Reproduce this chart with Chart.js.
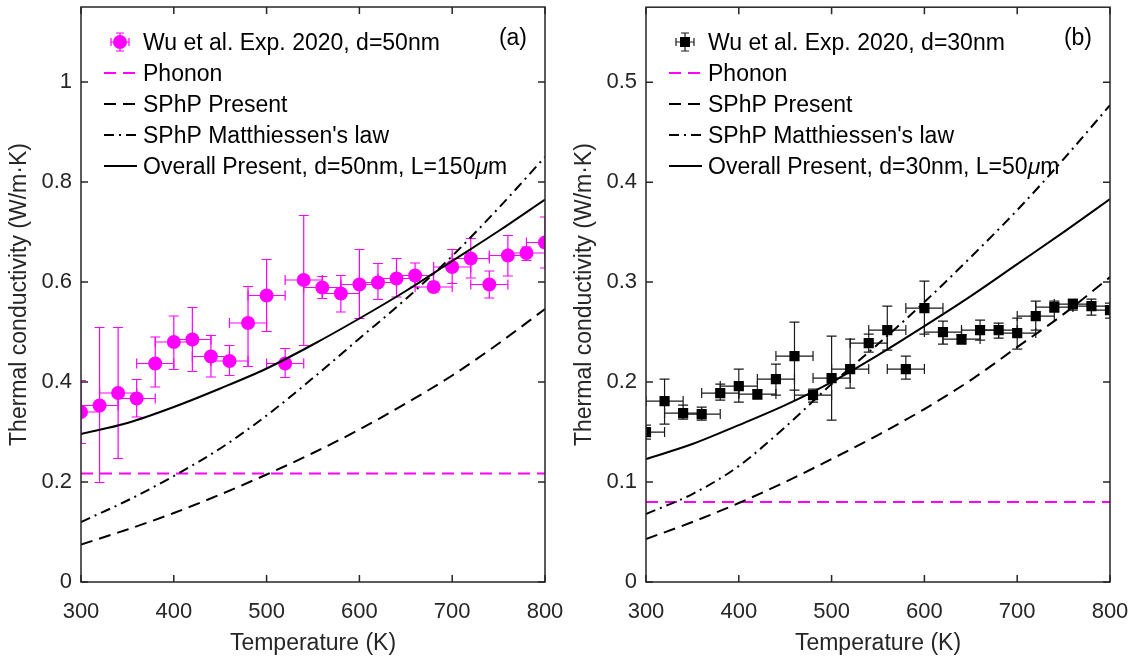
<!DOCTYPE html>
<html><head><meta charset="utf-8">
<script src="https://cdn.jsdelivr.net/npm/chart.js@4/dist/chart.umd.min.js"></script>
<style>
html,body{margin:0;padding:0;background:#fff;}
#wrap{position:relative;width:1130px;height:657px;overflow:hidden;}
.panel{position:absolute;top:0;width:565px;height:657px;}
</style></head><body>
<div id="wrap">
<div class="panel" style="left:0"><canvas id="ca" width="565" height="657"></canvas></div>
<div class="panel" style="left:565px"><canvas id="cb" width="565" height="657"></canvas></div>
</div>
<script>
// ---------- data ----------
const temps = [300,320,340,360,380,400,420,440,460,480,500,520,540,560,580,600,620,640,660,680,700,720,740,760,780,800];
const kA     = [0.340,0.353,0.378,0.367,0.437,0.480,0.485,0.451,0.442,0.518,0.573,0.437,0.604,0.589,0.577,0.595,0.599,0.607,0.613,0.590,0.630,0.647,0.595,0.653,0.658,0.679];
const kAHigh = [0.403,0.509,0.509,0.405,0.490,0.532,0.549,0.493,0.473,0.591,0.645,0.467,0.733,0.611,0.613,0.665,0.637,0.647,0.638,0.600,0.665,0.687,0.622,0.693,0.670,0.730];
const kALow  = [0.277,0.199,0.247,0.330,0.390,0.425,0.421,0.410,0.413,0.431,0.501,0.409,0.473,0.567,0.540,0.527,0.565,0.570,0.590,0.580,0.597,0.608,0.568,0.612,0.643,0.628];
const tErrA  = [20,20,20,20,20,20,20,20,20,20,20,20,20,20,20,20,20,20,20,20,20,20,20,20,20,20];

const kB     = [0.150,0.181,0.169,0.168,0.189,0.196,0.188,0.203,0.226,0.187,0.204,0.213,0.239,0.252,0.213,0.274,0.250,0.243,0.252,0.252,0.249,0.266,0.275,0.278,0.276,0.272];
const kBHigh = [0.157,0.203,0.177,0.175,0.198,0.213,0.192,0.218,0.260,0.193,0.246,0.243,0.248,0.276,0.226,0.301,0.261,0.247,0.262,0.259,0.264,0.281,0.281,0.283,0.283,0.279];
const kBLow  = [0.143,0.158,0.163,0.162,0.182,0.180,0.183,0.187,0.192,0.180,0.162,0.194,0.230,0.232,0.203,0.248,0.238,0.238,0.242,0.244,0.233,0.252,0.270,0.272,0.267,0.264];
const tErrB  = [20,20,20,20,20,20,20,20,20,20,20,20,20,20,20,20,20,20,20,20,20,20,20,20,20,20];

const curveT   = [300,350,400,450,500,550,600,650,700,750,800];
const phononA  = [0.217,0.217,0.217,0.217,0.217,0.217,0.217,0.217,0.217,0.217,0.217];
const sphpA    = [0.075,0.105,0.138,0.175,0.215,0.258,0.305,0.357,0.413,0.477,0.546];
const mattA    = [0.120,0.163,0.212,0.267,0.333,0.408,0.487,0.566,0.652,0.748,0.850];
const overallA = [0.296,0.318,0.350,0.387,0.427,0.475,0.527,0.582,0.642,0.702,0.765];

const phononB  = [0.080,0.080,0.080,0.080,0.080,0.080,0.080,0.080,0.080,0.080,0.080];
const sphpB    = [0.043,0.060,0.079,0.100,0.123,0.147,0.173,0.202,0.235,0.268,0.305];
const mattB    = [0.068,0.088,0.116,0.155,0.198,0.238,0.280,0.325,0.372,0.423,0.477];
const overallB = [0.123,0.138,0.157,0.177,0.200,0.227,0.256,0.286,0.318,0.350,0.383];

const xTicks  = [300,400,500,600,700,800];
const yTicksA = [0,0.2,0.4,0.6,0.8,1];
const yTicksB = [0,0.1,0.2,0.3,0.4,0.5];

const legendA = ['Wu et al. Exp. 2020, d=50nm','Phonon','SPhP Present',"SPhP Matthiessen's law",['Overall Present, d=50nm, L=150','\u03bc','m']];
const legendB = ['Wu et al. Exp. 2020, d=30nm','Phonon','SPhP Present',"SPhP Matthiessen's law",['Overall Present, d=30nm, L=50','\u03bc','m']];

// ---------- styling ----------
const FONT = "'Liberation Sans', Arial, Helvetica, sans-serif";
const AX = '#262626';
const MAG = '#ff00ff';
const DASH = [12,7];
const DASHDOT = [10,5,2,5];

function pts(xs, ys){ return xs.map((x,i)=>({x:x, y:ys[i]})); }
function noPad(s){ s.paddingTop = 0; s.paddingBottom = 0; s.paddingLeft = 0; s.paddingRight = 0; }

function makeChart(id, cfg){
  const errPlugin = {
    id:'errbars',
    beforeDatasetsDraw(chart){
      const {ctx, chartArea:a, scales:{x,y}} = chart;
      ctx.save();
      ctx.beginPath(); ctx.rect(a.left,a.top,a.right-a.left,a.bottom-a.top); ctx.clip();
      ctx.strokeStyle = cfg.errColor; ctx.lineWidth = 1.2; ctx.setLineDash([]);
      const cap = 5;
      cfg.k.forEach((v,i)=>{
        const px = x.getPixelForValue(temps[i]);
        const py = y.getPixelForValue(v);
        const yh = y.getPixelForValue(cfg.kHigh[i]);
        const yl = y.getPixelForValue(cfg.kLow[i]);
        const xl = x.getPixelForValue(temps[i]-cfg.tErr[i]);
        const xr = x.getPixelForValue(temps[i]+cfg.tErr[i]);
        ctx.beginPath();
        ctx.moveTo(px,yh); ctx.lineTo(px,yl);
        ctx.moveTo(px-cap,yh); ctx.lineTo(px+cap,yh);
        ctx.moveTo(px-cap,yl); ctx.lineTo(px+cap,yl);
        ctx.moveTo(xl,py); ctx.lineTo(xr,py);
        ctx.moveTo(xl,py-cap); ctx.lineTo(xl,py+cap);
        ctx.moveTo(xr,py-cap); ctx.lineTo(xr,py+cap);
        ctx.stroke();
      });
      ctx.restore();
    }
  };
  const boxPlugin = {
    id:'box',
    afterDraw(chart){
      const {ctx, chartArea:a, scales:{x,y}} = chart;
      ctx.save();
      ctx.strokeStyle = AX; ctx.lineWidth = 1.5; ctx.setLineDash([]);
      ctx.strokeRect(a.left, a.top, a.right-a.left, a.bottom-a.top);
      const tl = 7;
      ctx.beginPath();
      xTicks.forEach(v=>{
        const px = x.getPixelForValue(v);
        ctx.moveTo(px,a.bottom); ctx.lineTo(px,a.bottom-tl);
        ctx.moveTo(px,a.top); ctx.lineTo(px,a.top+tl);
      });
      cfg.yTicks.forEach(v=>{
        const py = y.getPixelForValue(v);
        ctx.moveTo(a.left,py); ctx.lineTo(a.left+tl,py);
        ctx.moveTo(a.right,py); ctx.lineTo(a.right-tl,py);
      });
      ctx.stroke();

      // legend
      const fs = 23;
      ctx.font = fs + 'px ' + FONT;
      ctx.fillStyle = '#000';
      ctx.textBaseline = 'alphabetic';
      const rows = [42,73,104,135,166];
      const tx = a.left + 62, l0 = a.left + 23, l1 = a.left + 56, mx = a.left + 39;
      cfg.legend.forEach((lab,i)=>{
        const cy = rows[i];
        ctx.save();
        if(i===0){
          ctx.strokeStyle = cfg.errColor; ctx.lineWidth = 1.2; ctx.setLineDash([]);
          ctx.beginPath();
          ctx.moveTo(mx,cy-9); ctx.lineTo(mx,cy+9);
          ctx.moveTo(mx-4,cy-9); ctx.lineTo(mx+4,cy-9);
          ctx.moveTo(mx-4,cy+9); ctx.lineTo(mx+4,cy+9);
          ctx.moveTo(mx-9,cy); ctx.lineTo(mx+9,cy);
          ctx.moveTo(mx-9,cy-4); ctx.lineTo(mx-9,cy+4);
          ctx.moveTo(mx+9,cy-4); ctx.lineTo(mx+9,cy+4);
          ctx.stroke();
          ctx.fillStyle = cfg.markColor;
          if(cfg.marker==='circle'){ ctx.beginPath(); ctx.arc(mx,cy,7,0,Math.PI*2); ctx.fill(); }
          else { ctx.fillRect(mx-5,cy-5,10,10); }
        } else {
          const st = cfg.lineStyles[i-1];
          ctx.strokeStyle = st.color; ctx.lineWidth = 2; ctx.setLineDash(st.dash);
          ctx.beginPath(); ctx.moveTo(l0,cy); ctx.lineTo(l1,cy); ctx.stroke();
        }
        ctx.restore();
        ctx.font = fs + 'px ' + FONT;
        ctx.fillStyle = '#000';
        const base = cy + 8;
        if(Array.isArray(lab)){
          let cx = tx;
          ctx.fillText(lab[0], cx, base); cx += ctx.measureText(lab[0]).width;
          ctx.font = 'italic ' + fs + 'px ' + FONT;
          ctx.fillText(lab[1], cx, base); cx += ctx.measureText(lab[1]).width;
          ctx.font = fs + 'px ' + FONT;
          ctx.fillText(lab[2], cx, base);
        } else {
          ctx.fillText(lab, tx, base);
        }
      });
      ctx.textAlign = 'right';
      ctx.fillText(cfg.tag, a.right - 18, 45);
      ctx.restore();
    }
  };

  return new Chart(document.getElementById(id), {
    type:'line',
    data:{ datasets:[
      { label:'exp', data:pts(temps,cfg.k), showLine:false, pointStyle:cfg.marker==='circle'?'circle':'rect',
        pointRadius:cfg.marker==='circle'?7:7.2, pointBackgroundColor:cfg.markColor, pointBorderColor:cfg.markColor, pointBorderWidth:0, order:5 },
      { label:'phonon', data:pts(curveT,cfg.phonon), borderColor:MAG, borderWidth:2, borderDash:DASH, pointRadius:0, fill:false, order:4 },
      { label:'sphp', data:pts(curveT,cfg.sphp), borderColor:'#000', borderWidth:2, borderDash:DASH, pointRadius:0, cubicInterpolationMode:'monotone', order:3 },
      { label:'matt', data:pts(curveT,cfg.matt), borderColor:'#000', borderWidth:2, borderDash:DASHDOT, pointRadius:0, cubicInterpolationMode:'monotone', order:2 },
      { label:'overall', data:pts(curveT,cfg.overall), borderColor:'#000', borderWidth:2, pointRadius:0, cubicInterpolationMode:'monotone', order:1 }
    ]},
    options:{
      responsive:false, animation:false, devicePixelRatio:1,
      layout:{ padding:{ top:7, right:20, bottom:0, left:0 } },
      plugins:{ legend:{display:false}, tooltip:{enabled:false} },
      scales:{
        x:{ type:'linear', min:300, max:800,
            grid:{display:false, drawTicks:false}, border:{display:false},
            afterBuildTicks:s=>{ s.ticks = xTicks.map(v=>({value:v})); },
            afterFit:s=>{ s.height = 75; noPad(s); },
            ticks:{ font:{family:FONT,size:22}, color:AX, padding:17, maxRotation:0, autoSkip:false, callback:v=>String(v) },
            title:{ display:true, text:'Temperature (K)', font:{family:FONT,size:23}, color:AX, padding:{top:0,bottom:0} } },
        y:{ type:'linear', min:0, max:cfg.ymax,
            grid:{display:false, drawTicks:false}, border:{display:false},
            afterBuildTicks:s=>{ s.ticks = cfg.yTicks.map(v=>({value:v})); },
            afterFit:s=>{ s.width = 81; noPad(s); },
            ticks:{ font:{family:FONT,size:22}, color:AX, padding:9, autoSkip:false, callback:v=>String(+v.toFixed(2)) },
            title:{ display:true, text:'Thermal conductivity (W/m\u00b7K)', font:{family:FONT,size:23}, color:AX, padding:{top:6,bottom:0} } }
      }
    },
    plugins:[errPlugin, boxPlugin]
  });
}

makeChart('ca', { k:kA, kHigh:kAHigh, kLow:kALow, tErr:tErrA, errColor:MAG, markColor:MAG, marker:'circle',
  phonon:phononA, sphp:sphpA, matt:mattA, overall:overallA, ymax:1.15, yTicks:yTicksA, legend:legendA, tag:'(a)',
  lineStyles:[{color:MAG,dash:DASH},{color:'#000',dash:DASH},{color:'#000',dash:DASHDOT},{color:'#000',dash:[]}] });
makeChart('cb', { k:kB, kHigh:kBHigh, kLow:kBLow, tErr:tErrB, errColor:'#1a1a1a', markColor:'#000', marker:'rect',
  phonon:phononB, sphp:sphpB, matt:mattB, overall:overallB, ymax:0.575, yTicks:yTicksB, legend:legendB, tag:'(b)',
  lineStyles:[{color:MAG,dash:DASH},{color:'#000',dash:DASH},{color:'#000',dash:DASHDOT},{color:'#000',dash:[]}] });
</script>
</body></html>
